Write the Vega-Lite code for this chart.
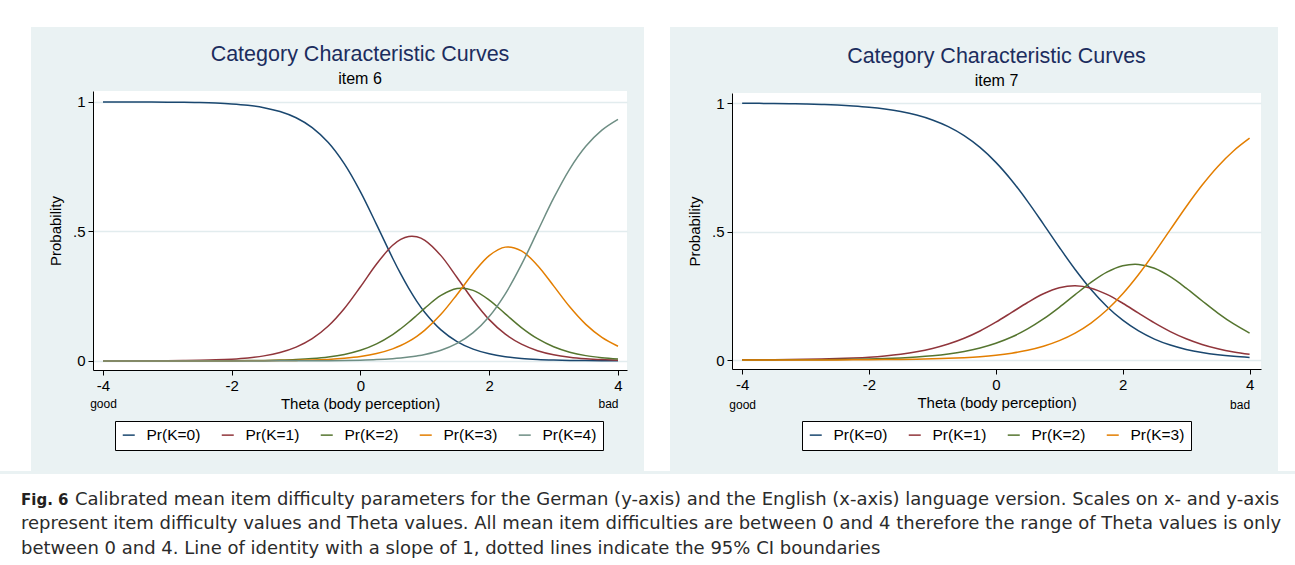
{
  "$schema": "https://vega.github.io/schema/vega-lite/v6.json",
  "background": "#EAF2F3",
  "padding": 0,
  "spacing": 0,
  "config": {
    "view": {"fill": "white", "stroke": null},
    "font": "Liberation Sans",
    "axis": {
      "domainColor": "#000", "domainWidth": 1, "tickColor": "#000", "tickSize": 5, "tickWidth": 1,
      "labelColor": "#000", "labelFontSize": 15, "labelFont": "Liberation Sans",
      "titleColor": "#000", "titleFontSize": 15, "titleFontWeight": "normal", "titleFont": "Liberation Sans",
      "grid": false, "labelFlush": false
    },
    "axisY": {"grid": true, "gridColor": "#E2ECEE", "gridWidth": 1.5, "labelPadding": 3, "titlePadding": 9},
    "axisX": {"labelPadding": 3, "titlePadding": 3},
    "legend": {
      "orient": "none", "direction": "horizontal",
      "fillColor": "white", "strokeColor": "#000", "padding": 6,
      "symbolType": "stroke", "symbolSize": 144, "symbolStrokeWidth": 1.5,
      "labelFont": "Liberation Sans", "labelFontSize": 15.5, "labelColor": "#000", "labelOffset": 10,
      "columnPadding": 17
    }
  },
  "datasets": {
    "item6": [
      {"theta": -4, "Pr(K=0)": 0.9999, "Pr(K=1)": 0.0001, "Pr(K=2)": 0, "Pr(K=3)": 0, "Pr(K=4)": 0},
      {"theta": -3.75, "Pr(K=0)": 0.9998, "Pr(K=1)": 0.0002, "Pr(K=2)": 0, "Pr(K=3)": 0, "Pr(K=4)": 0},
      {"theta": -3.5, "Pr(K=0)": 0.9997, "Pr(K=1)": 0.0003, "Pr(K=2)": 0, "Pr(K=3)": 0, "Pr(K=4)": 0},
      {"theta": -3.25, "Pr(K=0)": 0.9994, "Pr(K=1)": 0.0005, "Pr(K=2)": 0.0001, "Pr(K=3)": 0, "Pr(K=4)": 0},
      {"theta": -3, "Pr(K=0)": 0.999, "Pr(K=1)": 0.0009, "Pr(K=2)": 0.0001, "Pr(K=3)": 0, "Pr(K=4)": 0},
      {"theta": -2.75, "Pr(K=0)": 0.9983, "Pr(K=1)": 0.0015, "Pr(K=2)": 0.0002, "Pr(K=3)": 0, "Pr(K=4)": 0},
      {"theta": -2.5, "Pr(K=0)": 0.9972, "Pr(K=1)": 0.0025, "Pr(K=2)": 0.0002, "Pr(K=3)": 0.0001, "Pr(K=4)": 0},
      {"theta": -2.25, "Pr(K=0)": 0.9953, "Pr(K=1)": 0.0041, "Pr(K=2)": 0.0004, "Pr(K=3)": 0.0002, "Pr(K=4)": 0},
      {"theta": -2, "Pr(K=0)": 0.9921, "Pr(K=1)": 0.0069, "Pr(K=2)": 0.0007, "Pr(K=3)": 0.0002, "Pr(K=4)": 0.0001},
      {"theta": -1.75, "Pr(K=0)": 0.9867, "Pr(K=1)": 0.0116, "Pr(K=2)": 0.0012, "Pr(K=3)": 0.0004, "Pr(K=4)": 0.0001},
      {"theta": -1.5, "Pr(K=0)": 0.9777, "Pr(K=1)": 0.0195, "Pr(K=2)": 0.0019, "Pr(K=3)": 0.0007, "Pr(K=4)": 0.0002},
      {"theta": -1.25, "Pr(K=0)": 0.9628, "Pr(K=1)": 0.0325, "Pr(K=2)": 0.0032, "Pr(K=3)": 0.0012, "Pr(K=4)": 0.0003},
      {"theta": -1, "Pr(K=0)": 0.9388, "Pr(K=1)": 0.0533, "Pr(K=2)": 0.0054, "Pr(K=3)": 0.0021, "Pr(K=4)": 0.0004},
      {"theta": -0.75, "Pr(K=0)": 0.9007, "Pr(K=1)": 0.086, "Pr(K=2)": 0.0091, "Pr(K=3)": 0.0035, "Pr(K=4)": 0.0007},
      {"theta": -0.5, "Pr(K=0)": 0.8429, "Pr(K=1)": 0.1348, "Pr(K=2)": 0.0152, "Pr(K=3)": 0.006, "Pr(K=4)": 0.0011},
      {"theta": -0.25, "Pr(K=0)": 0.7604, "Pr(K=1)": 0.2024, "Pr(K=2)": 0.0252, "Pr(K=3)": 0.0102, "Pr(K=4)": 0.0018},
      {"theta": 0, "Pr(K=0)": 0.6525, "Pr(K=1)": 0.2863, "Pr(K=2)": 0.0411, "Pr(K=3)": 0.017, "Pr(K=4)": 0.0031},
      {"theta": 0.25, "Pr(K=0)": 0.5262, "Pr(K=1)": 0.3745, "Pr(K=2)": 0.0657, "Pr(K=3)": 0.0284, "Pr(K=4)": 0.0052},
      {"theta": 0.5, "Pr(K=0)": 0.3965, "Pr(K=1)": 0.4464, "Pr(K=2)": 0.1016, "Pr(K=3)": 0.0467, "Pr(K=4)": 0.0088},
      {"theta": 0.625, "Pr(K=0)": 0.3357, "Pr(K=1)": 0.4692, "Pr(K=2)": 0.1242, "Pr(K=3)": 0.0595, "Pr(K=4)": 0.0114},
      {"theta": 0.75, "Pr(K=0)": 0.2799, "Pr(K=1)": 0.4805, "Pr(K=2)": 0.1493, "Pr(K=3)": 0.0755, "Pr(K=4)": 0.0148},
      {"theta": 0.875, "Pr(K=0)": 0.2301, "Pr(K=1)": 0.4793, "Pr(K=2)": 0.1763, "Pr(K=3)": 0.0952, "Pr(K=4)": 0.0191},
      {"theta": 1, "Pr(K=0)": 0.1869, "Pr(K=1)": 0.4656, "Pr(K=2)": 0.2038, "Pr(K=3)": 0.119, "Pr(K=4)": 0.0247},
      {"theta": 1.25, "Pr(K=0)": 0.1197, "Pr(K=1)": 0.4065, "Pr(K=2)": 0.2528, "Pr(K=3)": 0.1799, "Pr(K=4)": 0.0411},
      {"theta": 1.5, "Pr(K=0)": 0.0745, "Pr(K=1)": 0.322, "Pr(K=2)": 0.2794, "Pr(K=3)": 0.2566, "Pr(K=4)": 0.0675},
      {"theta": 1.75, "Pr(K=0)": 0.0454, "Pr(K=1)": 0.2345, "Pr(K=2)": 0.2724, "Pr(K=3)": 0.3386, "Pr(K=4)": 0.1091},
      {"theta": 2, "Pr(K=0)": 0.0274, "Pr(K=1)": 0.1595, "Pr(K=2)": 0.235, "Pr(K=3)": 0.4066, "Pr(K=4)": 0.1715},
      {"theta": 2.25, "Pr(K=0)": 0.0164, "Pr(K=1)": 0.1033, "Pr(K=2)": 0.1818, "Pr(K=3)": 0.4393, "Pr(K=4)": 0.2592},
      {"theta": 2.5, "Pr(K=0)": 0.0098, "Pr(K=1)": 0.0647, "Pr(K=2)": 0.1289, "Pr(K=3)": 0.4249, "Pr(K=4)": 0.3717},
      {"theta": 2.75, "Pr(K=0)": 0.0058, "Pr(K=1)": 0.0396, "Pr(K=2)": 0.0859, "Pr(K=3)": 0.3687, "Pr(K=4)": 0.5},
      {"theta": 3, "Pr(K=0)": 0.0034, "Pr(K=1)": 0.024, "Pr(K=2)": 0.0547, "Pr(K=3)": 0.2896, "Pr(K=4)": 0.6283},
      {"theta": 3.25, "Pr(K=0)": 0.002, "Pr(K=1)": 0.0144, "Pr(K=2)": 0.0338, "Pr(K=3)": 0.209, "Pr(K=4)": 0.7408},
      {"theta": 3.5, "Pr(K=0)": 0.0012, "Pr(K=1)": 0.0086, "Pr(K=2)": 0.0205, "Pr(K=3)": 0.1412, "Pr(K=4)": 0.8285},
      {"theta": 3.75, "Pr(K=0)": 0.0007, "Pr(K=1)": 0.0051, "Pr(K=2)": 0.0124, "Pr(K=3)": 0.0909, "Pr(K=4)": 0.8909},
      {"theta": 4, "Pr(K=0)": 0.0004, "Pr(K=1)": 0.003, "Pr(K=2)": 0.0074, "Pr(K=3)": 0.0567, "Pr(K=4)": 0.9325}
    ],
    "item7": [
      {"theta": -4, "Pr(K=0)": 0.9991, "Pr(K=1)": 0.0006, "Pr(K=2)": 0.0002, "Pr(K=3)": 0.0001},
      {"theta": -3.75, "Pr(K=0)": 0.9987, "Pr(K=1)": 0.0009, "Pr(K=2)": 0.0003, "Pr(K=3)": 0.0001},
      {"theta": -3.5, "Pr(K=0)": 0.9981, "Pr(K=1)": 0.0013, "Pr(K=2)": 0.0005, "Pr(K=3)": 0.0001},
      {"theta": -3.25, "Pr(K=0)": 0.9973, "Pr(K=1)": 0.0019, "Pr(K=2)": 0.0006, "Pr(K=3)": 0.0002},
      {"theta": -3, "Pr(K=0)": 0.9961, "Pr(K=1)": 0.0027, "Pr(K=2)": 0.001, "Pr(K=3)": 0.0002},
      {"theta": -2.75, "Pr(K=0)": 0.9945, "Pr(K=1)": 0.0038, "Pr(K=2)": 0.0013, "Pr(K=3)": 0.0004},
      {"theta": -2.5, "Pr(K=0)": 0.9921, "Pr(K=1)": 0.0055, "Pr(K=2)": 0.0019, "Pr(K=3)": 0.0005},
      {"theta": -2.25, "Pr(K=0)": 0.9886, "Pr(K=1)": 0.0079, "Pr(K=2)": 0.0028, "Pr(K=3)": 0.0007},
      {"theta": -2, "Pr(K=0)": 0.9838, "Pr(K=1)": 0.0112, "Pr(K=2)": 0.004, "Pr(K=3)": 0.001},
      {"theta": -1.75, "Pr(K=0)": 0.9768, "Pr(K=1)": 0.016, "Pr(K=2)": 0.0057, "Pr(K=3)": 0.0015},
      {"theta": -1.5, "Pr(K=0)": 0.967, "Pr(K=1)": 0.0227, "Pr(K=2)": 0.0081, "Pr(K=3)": 0.0022},
      {"theta": -1.25, "Pr(K=0)": 0.9533, "Pr(K=1)": 0.032, "Pr(K=2)": 0.0116, "Pr(K=3)": 0.0031},
      {"theta": -1, "Pr(K=0)": 0.9342, "Pr(K=1)": 0.0448, "Pr(K=2)": 0.0165, "Pr(K=3)": 0.0045},
      {"theta": -0.75, "Pr(K=0)": 0.9081, "Pr(K=1)": 0.062, "Pr(K=2)": 0.0235, "Pr(K=3)": 0.0064},
      {"theta": -0.5, "Pr(K=0)": 0.8731, "Pr(K=1)": 0.0845, "Pr(K=2)": 0.0332, "Pr(K=3)": 0.0092},
      {"theta": -0.25, "Pr(K=0)": 0.8272, "Pr(K=1)": 0.113, "Pr(K=2)": 0.0467, "Pr(K=3)": 0.0131},
      {"theta": 0, "Pr(K=0)": 0.7691, "Pr(K=1)": 0.1471, "Pr(K=2)": 0.0651, "Pr(K=3)": 0.0187},
      {"theta": 0.25, "Pr(K=0)": 0.6987, "Pr(K=1)": 0.1852, "Pr(K=2)": 0.0894, "Pr(K=3)": 0.0267},
      {"theta": 0.5, "Pr(K=0)": 0.6174, "Pr(K=1)": 0.2238, "Pr(K=2)": 0.1209, "Pr(K=3)": 0.0379},
      {"theta": 0.75, "Pr(K=0)": 0.529, "Pr(K=1)": 0.2577, "Pr(K=2)": 0.1597, "Pr(K=3)": 0.0536},
      {"theta": 1, "Pr(K=0)": 0.4387, "Pr(K=1)": 0.2809, "Pr(K=2)": 0.2051, "Pr(K=3)": 0.0753},
      {"theta": 1.25, "Pr(K=0)": 0.3523, "Pr(K=1)": 0.2887, "Pr(K=2)": 0.2543, "Pr(K=3)": 0.1047},
      {"theta": 1.5, "Pr(K=0)": 0.2746, "Pr(K=1)": 0.2796, "Pr(K=2)": 0.3019, "Pr(K=3)": 0.1439},
      {"theta": 1.75, "Pr(K=0)": 0.2085, "Pr(K=1)": 0.2553, "Pr(K=2)": 0.3417, "Pr(K=3)": 0.1945},
      {"theta": 2, "Pr(K=0)": 0.1549, "Pr(K=1)": 0.2209, "Pr(K=2)": 0.3666, "Pr(K=3)": 0.2576},
      {"theta": 2.25, "Pr(K=0)": 0.1132, "Pr(K=1)": 0.1821, "Pr(K=2)": 0.372, "Pr(K=3)": 0.3327},
      {"theta": 2.5, "Pr(K=0)": 0.0815, "Pr(K=1)": 0.1443, "Pr(K=2)": 0.3568, "Pr(K=3)": 0.4174},
      {"theta": 2.75, "Pr(K=0)": 0.0582, "Pr(K=1)": 0.1105, "Pr(K=2)": 0.3241, "Pr(K=3)": 0.5072},
      {"theta": 3, "Pr(K=0)": 0.0412, "Pr(K=1)": 0.0825, "Pr(K=2)": 0.2797, "Pr(K=3)": 0.5966},
      {"theta": 3.25, "Pr(K=0)": 0.0291, "Pr(K=1)": 0.0604, "Pr(K=2)": 0.2305, "Pr(K=3)": 0.68},
      {"theta": 3.5, "Pr(K=0)": 0.0204, "Pr(K=1)": 0.0436, "Pr(K=2)": 0.1826, "Pr(K=3)": 0.7534},
      {"theta": 3.75, "Pr(K=0)": 0.0143, "Pr(K=1)": 0.0311, "Pr(K=2)": 0.1402, "Pr(K=3)": 0.8144},
      {"theta": 4, "Pr(K=0)": 0.01, "Pr(K=1)": 0.0221, "Pr(K=2)": 0.1048, "Pr(K=3)": 0.8631}
    ],
    "titles6": [
      {"line": 1, "text": "Category Characteristic Curves"},
      {"line": 2, "text": "item 6"}
    ],
    "titles7": [
      {"line": 1, "text": "Category Characteristic Curves"},
      {"line": 2, "text": "item 7"}
    ],
    "caption": [
      {"line": 1, "part": "bold", "text": "Fig. 6"},
      {"line": 1, "part": "first", "text": "Calibrated mean item difficulty parameters for the German (y-axis) and the English (x-axis) language version. Scales on x- and y-axis"},
      {"line": 2, "part": "rest", "text": "represent item difficulty values and Theta values. All mean item difficulties are between 0 and 4 therefore the range of Theta values is only"},
      {"line": 3, "part": "rest", "text": "between 0 and 4. Line of identity with a slope of 1, dotted lines indicate the 95% CI boundaries"}
    ],
    "blank": [{"n": 0}]
  },
  "vconcat": [
    {"width": 1295, "height": 27, "data": {"name": "blank"}, "mark": {"type": "rect", "color": "white"}},
    {
      "spacing": 17,
      "resolve": {"scale": {"color": "independent"}, "legend": {"color": "independent"}},
      "hconcat": [
        {"width": 31, "height": 444, "data": {"name": "blank"}, "mark": {"type": "rect", "color": "white"}},
        {
          "spacing": 0,
          "resolve": {"scale": {"color": "independent"}, "legend": {"color": "independent"}},
          "vconcat": [
            {
              "width": 534, "height": 64, "view": {"fill": "#EAF2F3"},
              "data": {"name": "titles6"},
              "encoding": {
                "y": {"field": "line", "type": "quantitative", "scale": {"domain": [-0.1667, 2.5], "reverse": true, "nice": false, "zero": false}, "axis": null},
                "text": {"field": "text"}
              },
              "layer": [
                {"transform": [{"filter": "datum.line == 1"}], "mark": {"type": "text", "baseline": "middle", "font": "Liberation Sans", "fontSize": 21.5, "color": "#1C2D5E"}},
                {"transform": [{"filter": "datum.line == 2"}], "mark": {"type": "text", "baseline": "middle", "font": "Liberation Sans", "fontSize": 16, "color": "#000"}}
              ]
            },
            {
              "width": 534, "height": 279,
              "data": {"name": "item6"},
              "transform": [{"fold": ["Pr(K=0)", "Pr(K=1)", "Pr(K=2)", "Pr(K=3)", "Pr(K=4)"], "as": ["series", "prob"]}],
              "layer": [
                {
                  "mark": {"type": "line", "strokeWidth": 1.5, "interpolate": "catmull-rom"},
                  "encoding": {
                    "x": {"field": "theta", "type": "quantitative",
                      "scale": {"domain": [-4.155, 4.14], "nice": false, "zero": false},
                      "axis": {"values": [-4, -2, 0, 2, 4], "title": "Theta (body perception)", "orient": "bottom", "labelExpr": "'' + datum.value"}},
                    "y": {"field": "prob", "type": "quantitative",
                      "scale": {"domain": [-0.035, 1.042], "nice": false, "zero": false},
                      "axis": {"values": [0, 0.5, 1], "title": "Probability", "labelExpr": "datum.value == 0.5 ? '.5' : (datum.value == 1 ? '1' : '0')"}},
                    "color": {"field": "series", "type": "nominal",
                      "scale": {"domain": ["Pr(K=0)", "Pr(K=1)", "Pr(K=2)", "Pr(K=3)", "Pr(K=4)"], "range": ["#1A476F", "#90353B", "#55752F", "#E37E00", "#6E8E84"]},
                      "legend": {"title": null, "legendX": 22, "legendY": 330}}
                  }
                },
                {
                  "data": {"values": []},
                  "mark": {"type": "rule"},
                  "encoding": {
                    "x": {"field": "theta", "type": "quantitative",
                      "axis": {"orient": "bottom", "values": [-4, 4], "title": null, "domain": false, "ticks": false, "tickSize": 0,
                        "labelFontSize": 12, "labelPadding": 28, "labelExpr": "datum.value < 0 ? 'good' : 'bad'",
                        "labelAlign": {"condition": {"test": "datum.value > 0", "value": "right"}, "value": "center"}}}
                  }
                }
              ],
              "resolve": {"axis": {"x": "independent"}}
            },
            {"width": 534, "height": 23, "view": {"fill": "#EAF2F3"}, "data": {"name": "blank"}, "mark": {"type": "rect", "color": "#EAF2F3"}}
          ]
        },
        {"width": 26, "height": 444, "data": {"name": "blank"}, "mark": {"type": "rect", "color": "white"}},
        {
          "spacing": 0,
          "resolve": {"scale": {"color": "independent"}, "legend": {"color": "independent"}},
          "vconcat": [
            {
              "width": 529, "height": 66, "view": {"fill": "#EAF2F3"},
              "data": {"name": "titles7"},
              "encoding": {
                "y": {"field": "line", "type": "quantitative", "scale": {"domain": [-0.25, 2.5], "reverse": true, "nice": false, "zero": false}, "axis": null},
                "text": {"field": "text"}
              },
              "layer": [
                {"transform": [{"filter": "datum.line == 1"}], "mark": {"type": "text", "baseline": "middle", "font": "Liberation Sans", "fontSize": 21.5, "color": "#1C2D5E"}},
                {"transform": [{"filter": "datum.line == 2"}], "mark": {"type": "text", "baseline": "middle", "font": "Liberation Sans", "fontSize": 16, "color": "#000"}}
              ]
            },
            {
              "width": 529, "height": 276,
              "data": {"name": "item7"},
              "transform": [{"fold": ["Pr(K=0)", "Pr(K=1)", "Pr(K=2)", "Pr(K=3)"], "as": ["series", "prob"]}],
              "layer": [
                {
                  "mark": {"type": "line", "strokeWidth": 1.5, "interpolate": "catmull-rom"},
                  "encoding": {
                    "x": {"field": "theta", "type": "quantitative",
                      "scale": {"domain": [-4.16, 4.18], "nice": false, "zero": false},
                      "axis": {"values": [-4, -2, 0, 2, 4], "title": "Theta (body perception)", "orient": "bottom", "labelExpr": "'' + datum.value"}},
                    "y": {"field": "prob", "type": "quantitative",
                      "scale": {"domain": [-0.035, 1.039], "nice": false, "zero": false},
                      "axis": {"values": [0, 0.5, 1], "title": "Probability", "labelExpr": "datum.value == 0.5 ? '.5' : (datum.value == 1 ? '1' : '0')"}},
                    "color": {"field": "series", "type": "nominal",
                      "scale": {"domain": ["Pr(K=0)", "Pr(K=1)", "Pr(K=2)", "Pr(K=3)"], "range": ["#1A476F", "#90353B", "#55752F", "#E37E00"]},
                      "legend": {"title": null, "legendX": 70, "legendY": 328}}
                  }
                },
                {
                  "data": {"values": []},
                  "mark": {"type": "rule"},
                  "encoding": {
                    "x": {"field": "theta", "type": "quantitative",
                      "axis": {"orient": "bottom", "values": [-4, 4], "title": null, "domain": false, "ticks": false, "tickSize": 0,
                        "labelFontSize": 12, "labelPadding": 30, "labelExpr": "datum.value < 0 ? 'good' : 'bad'",
                        "labelAlign": {"condition": {"test": "datum.value > 0", "value": "right"}, "value": "center"}}}
                  }
                }
              ],
              "resolve": {"axis": {"x": "independent"}}
            },
            {"width": 529, "height": 23, "view": {"fill": "#EAF2F3"}, "data": {"name": "blank"}, "mark": {"type": "rect", "color": "#EAF2F3"}}
          ]
        },
        {"width": 19, "height": 444, "data": {"name": "blank"}, "mark": {"type": "rect", "color": "white"}}
      ]
    },
    {
      "width": 1295, "height": 94,
      "data": {"name": "caption"},
      "encoding": {
        "y": {"field": "line", "type": "quantitative", "scale": {"domain": [-0.0612, 3.7755], "reverse": true, "nice": false, "zero": false}, "axis": null},
        "text": {"field": "text"}
      },
      "layer": [
        {"transform": [{"filter": "datum.part == 'bold'"}], "mark": {"type": "text", "align": "left", "baseline": "middle", "font": "DejaVu Sans", "fontSize": 15, "fontWeight": "bold", "color": "#231F20", "dx": 21}, "encoding": {"x": {"value": 0}}},
        {"transform": [{"filter": "datum.part == 'first'"}], "mark": {"type": "text", "align": "left", "baseline": "middle", "font": "DejaVu Sans", "fontSize": 18, "color": "#2B2B2B", "dx": 75}, "encoding": {"x": {"value": 0}}},
        {"transform": [{"filter": "datum.part == 'rest'"}], "mark": {"type": "text", "align": "left", "baseline": "middle", "font": "DejaVu Sans", "fontSize": 18, "color": "#2B2B2B", "dx": 21}, "encoding": {"x": {"value": 0}}}
      ]
    }
  ]
}
